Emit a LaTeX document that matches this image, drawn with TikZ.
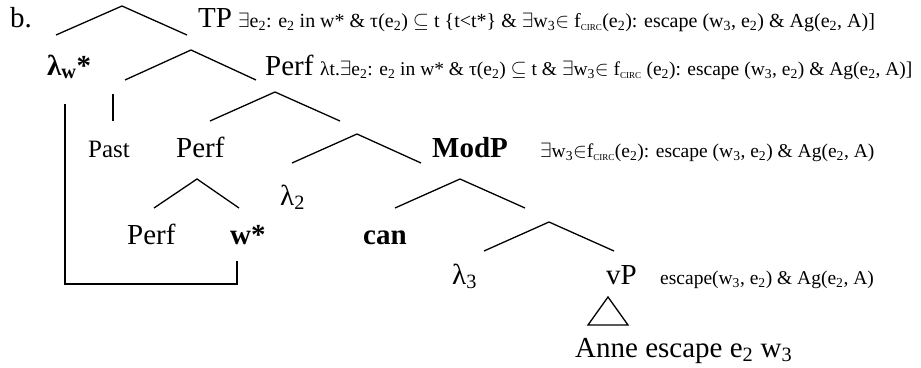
\documentclass[tikz,border=0pt]{standalone}
\usepackage{fontspec}
\setmainfont{Liberation Serif}
\newcommand{\sbs}[1]{\textsubscript{#1}}
\newcommand{\circsb}{\textsubscript{\fontsize{9}{10}\selectfont CIRC}}
\tikzset{
  big/.style={font=\fontsize{29}{34}\selectfont, inner sep=0pt, anchor=base west},
  mid/.style={font=\fontsize{25}{30}\selectfont, inner sep=0pt, anchor=base west},
  sm/.style={font=\fontsize{19.5}{23}\selectfont, inner sep=0pt, anchor=base west},
  br/.style={line width=1.3pt},
}
\begin{document}
\begin{tikzpicture}[x=1pt,y=-1pt]
\useasboundingbox (0,0) rectangle (921,367);
% labels
\node[big] (b) at (10,27) {b.};
\node[big] (tp) at (198,27) {TP};
\node[sm, font=\fontsize{20}{24}\selectfont] (tpf) at (238,27) {$\exists$e\sbs{2}: e\sbs{2} in w* \& τ(e\sbs{2}) $\subseteq$ t \{t<t*\} \& $\exists$w\sbs{3}$\in$ f\circsb(e\sbs{2}): escape (w\sbs{3}, e\sbs{2}) \& Ag(e\sbs{2}, A)]};
\node[big] (lw) at (47,75) {\bfseries λ\sbs{w}*};
\node[big] (perf1) at (265,75) {Perf};
\node[sm] (perff) at (320,75) {λt.$\exists$e\sbs{2}: e\sbs{2} in w* \& τ(e\sbs{2}) $\subseteq$ t \& $\exists$w\sbs{3}$\in$ f\circsb{} (e\sbs{2}): escape (w\sbs{3}, e\sbs{2}) \& Ag(e\sbs{2}, A)]};
\node[mid] (past) at (88,157) {Past};
\node[big] (perf2) at (176,157) {Perf};
\node[big] (modp) at (432,157) {\bfseries ModP};
\node[sm] (modpf) at (540,157) {$\exists$w\sbs{3}$\in$f\circsb(e\sbs{2}): escape (w\sbs{3}, e\sbs{2}) \& Ag(e\sbs{2}, A)};
\node[big] (l2) at (280,205) {λ\sbs{2}};
\node[big] (perf3) at (127,244) {Perf};
\node[big] (ws) at (230,244) {\bfseries w*};
\node[big] (can) at (363,244) {\bfseries can};
\node[big] (l3) at (452,284) {λ\sbs{3}};
\node[big] (vp) at (606,284) {vP};
\node[sm] (vpf) at (660,284) {escape(w\sbs{3}, e\sbs{2}) \& Ag(e\sbs{2}, A)};
\node[big] (anne) at (575,357) {Anne escape e\sbs{2} w\sbs{3}};
% branches
\coordinate (p1) at (122,6);  \coordinate (l1) at (56,35);  \coordinate (r1) at (187,35);
\coordinate (p2) at (191,50); \coordinate (l2c) at (125,80); \coordinate (r2) at (256,80);
\coordinate (p3) at (275,92); \coordinate (l3c) at (210,121); \coordinate (r3) at (340,121);
\coordinate (p4) at (357,134); \coordinate (l4) at (292,163); \coordinate (r4) at (421,163);
\coordinate (p5) at (197,179); \coordinate (l5) at (154,208); \coordinate (r5) at (239,208);
\coordinate (p6) at (460,179); \coordinate (l6) at (395,208); \coordinate (r6) at (525,208);
\coordinate (p7) at (549,222); \coordinate (l7) at (484,251); \coordinate (r7) at (614,251);
\draw[br] (l1) -- (p1) -- (r1);
\draw[br] (l2c) -- (p2) -- (r2);
\draw[br] (l3c) -- (p3) -- (r3);
\draw[br] (l4) -- (p4) -- (r4);
\draw[br] (l5) -- (p5) -- (r5);
\draw[br] (l6) -- (p6) -- (r6);
\draw[br] (l7) -- (p7) -- (r7);
% past line
\coordinate (pa1) at (113,94); \coordinate (pa2) at (113,121);
\draw[br] (pa1) -- (pa2);
% bracket
\coordinate (k1) at (65,104); \coordinate (k2) at (65,284);
\coordinate (k3) at (237,284); \coordinate (k4) at (237,261);
\draw[br] (k1) -- (k2) -- (k3) -- (k4);
% triangle
\coordinate (t1) at (608,297); \coordinate (t2) at (588,325); \coordinate (t3) at (628,325);
\draw[br] (t2) -- (t1) -- (t3) -- cycle;
\end{tikzpicture}
\end{document}
